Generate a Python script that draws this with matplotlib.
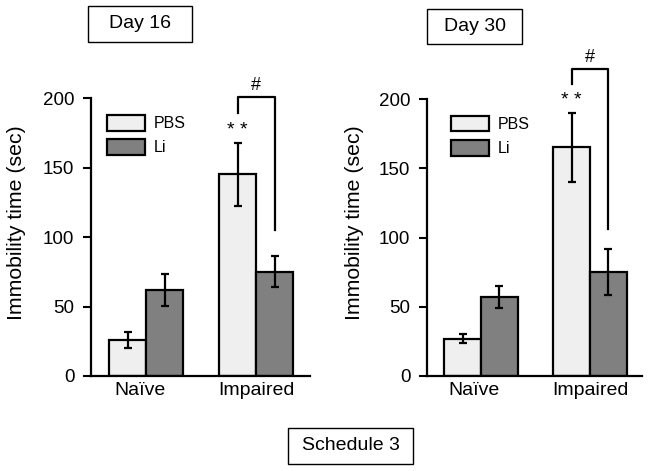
import matplotlib

matplotlib.use("Agg")

import matplotlib.pyplot as plt
import matplotlib.transforms as mtransforms
from matplotlib.patches import Rectangle
import numpy as np

plt.rcParams["font.family"] = ["Liberation Sans", "DejaVu Sans"]

groups = ["Naïve", "Impaired"]
series = ["PBS", "Li"]

# Day 16
d16_pbs = [26, 145]
d16_pbs_err = [6, 22.5]
d16_li = [62, 75]
d16_li_err = [11.5, 11]

# Day 30
d30_pbs = [27, 165]
d30_pbs_err = [3.5, 25]
d30_li = [57, 75]
d30_li_err = [8, 16.5]

# significance bracket: (left foot, top, right foot) in data units
d16_bracket = (189, 201, 105)
d30_bracket = (211, 222, 106)

PBS_COLOR = "#efefef"
LI_COLOR = "#808080"
W = 0.336

fig = plt.figure(figsize=(6.51, 4.71), dpi=100)


def panel(rect, pbs, pbs_err, li, li_err, bracket, xlim, leg_xy):
    ax = fig.add_axes(rect)
    x = np.arange(len(groups))
    ekw = dict(elinewidth=1.6, capsize=2.6, capthick=1.6, ecolor="black")
    ax.bar(x - W / 2, pbs, W, yerr=pbs_err, color=PBS_COLOR, edgecolor="black",
           linewidth=1.6, error_kw=ekw, label=series[0], zorder=2)
    ax.bar(x + W / 2, li, W, yerr=li_err, color=LI_COLOR, edgecolor="black",
           linewidth=1.6, error_kw=ekw, label=series[1], zorder=2)

    lf, top, rf = bracket
    ax.plot([1 - W / 2, 1 - W / 2, 1 + W / 2, 1 + W / 2], [lf, top, top, rf],
            color="black", linewidth=1.6, clip_on=False)
    ax.text(1.0, top + 2, "#", ha="center", va="bottom", fontsize=13)
    ax.text(1 - W / 2, pbs[1] + pbs_err[1] + 3, "* *", ha="center",
            va="bottom", fontsize=14)

    ax.set_xlim(*xlim)
    ax.set_ylim(0, 200)
    ax.set_yticks([0, 50, 100, 150, 200])
    ax.set_xticks(x)
    ax.set_xticklabels(groups)
    ax.tick_params(axis="x", length=0, pad=4, labelsize=14)
    ax.tick_params(axis="y", length=5.5, width=1.5, pad=6.5, labelsize=13.5)
    # the Naïve label sits a little left of its group centre in the original
    shift = mtransforms.ScaledTranslation(-0.065, 0, fig.dpi_scale_trans)
    lab = ax.get_xticklabels()[0]
    lab.set_transform(lab.get_transform() + shift)
    for s in ("top", "right"):
        ax.spines[s].set_visible(False)
    for s in ("left", "bottom"):
        ax.spines[s].set_linewidth(1.6)
    ax.set_ylabel("Immobility time (sec)", fontsize=15.3)
    ax.legend(loc="upper left", bbox_to_anchor=leg_xy, frameon=False,
              borderpad=0, borderaxespad=0, handlelength=2.4, handleheight=1.15,
              labelspacing=0.5, handletextpad=0.5, fontsize=11.5)
    return ax


ax1 = panel([91 / 651, 1 - 376 / 471, 219 / 651, 278 / 471],
            d16_pbs, d16_pbs_err, d16_li, d16_li_err, d16_bracket,
            (-0.5, 1.49), (0.073, 0.94))
ax1.yaxis.set_label_coords((26 - 91) / 219, 0.552)
ax2 = panel([427 / 651, 1 - 376 / 471, 215 / 651, 277 / 471],
            d30_pbs, d30_pbs_err, d30_li, d30_li_err, d30_bracket,
            (-0.495, 1.477), (0.112, 0.94))
ax2.yaxis.set_label_coords((364 - 427) / 215, 0.552)


def boxed(x0, y0, x1, y1, text):
    # pixel box (top-left origin) -> figure fraction
    fx0, fx1 = x0 / 651, x1 / 651
    fy0, fy1 = 1 - y1 / 471, 1 - y0 / 471
    fig.patches.append(Rectangle((fx0, fy0), fx1 - fx0, fy1 - fy0,
                                 transform=fig.transFigure, fill=False,
                                 edgecolor="black", linewidth=1.0))
    fig.text((fx0 + fx1) / 2, (fy0 + fy1) / 2, text, ha="center",
             va="center", fontsize=14)


boxed(88, 6, 192, 42, "Day 16")
boxed(427, 9, 522, 44, "Day 30")
boxed(288, 428, 413, 464, "Schedule 3")

fig.savefig("out.png", dpi=100)
